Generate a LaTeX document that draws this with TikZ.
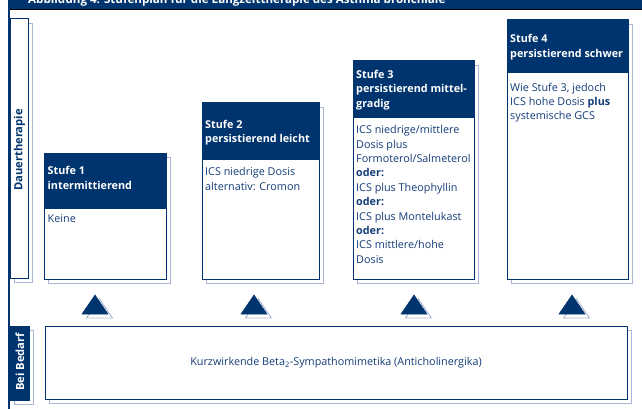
\documentclass[tikz,border=0pt]{standalone}
\usepackage{fontspec}
\setmainfont{Open Sans}
\definecolor{dblue}{RGB}{0,52,110}
\definecolor{tblue}{RGB}{20,60,120}
\definecolor{shade}{RGB}{170,182,214}
\tikzset{
  hdrbox/.style={fill=dblue,draw=dblue,line width=1pt},
  bodybox/.style={fill=white,draw=dblue,line width=1pt},
  shadowbox/.style={fill=white,draw=shade,line width=0.9pt},
  hdrtext/.style={anchor=north west,inner sep=0pt,align=left,text=white,font=\fontsize{10.8}{14.4}\selectfont\bfseries},
  bodytext/.style={anchor=north west,inner sep=0pt,align=left,text=tblue,font=\fontsize{10.8}{14.4}\selectfont},
  sidetext/.style={rotate=90,inner sep=0pt,font=\fontsize{11.2}{12}\selectfont\bfseries},
  tri/.style={fill=dblue,draw=dblue,line width=0.5pt},
  trishadow/.style={fill=white,draw=shade,line width=0.9pt}
}
\begin{document}
\begin{tikzpicture}[x=1pt,y=-1pt]
\useasboundingbox (0,0) rectangle (642,409);
% top band with title
\fill[dblue] (8,0) rectangle (642,9);
\draw[shade,line width=0.6pt] (8,9.2) -- (642,9.2);
\begin{scope}
\clip (8,0) rectangle (642,9);
\node[anchor=base west,inner sep=0pt,text=white,font=\fontsize{11.6}{13}\selectfont\bfseries] (title) at (28,3.6) {Abbildung 4: Stufenplan für die Langzeittherapie des Asthma bronchiale};
\end{scope}
% left vertical line
\draw[dblue,line width=2pt] (9,9) -- (9,409);
% Dauertherapie label
\draw[shadowbox] (14,23) rectangle (32,282);
\draw[bodybox] (10,19) rectangle (28,278);
\node[sidetext,text=dblue] (dauer) at (19.5,150) {Dauertherapie};
% Bei Bedarf label
\draw[shadowbox] (14,330) rectangle (33,404);
\draw[hdrbox] (10,326) rectangle (29,400);
\node[sidetext,text=white] (bedarf) at (20,362) {Bei Bedarf};
% Stufe 1
\draw[shadowbox] (48,157) rectangle (170,283);
\draw[bodybox] (44,208) rectangle (166,279);
\draw[hdrbox] (44,153) rectangle (166,208);
\node[hdrtext] (h1) at (47.5,166.3) {Stufe 1\\intermittierend};
\node[bodytext] (b1) at (47.5,214.5) {Keine};
% Stufe 2
\draw[shadowbox] (206,107) rectangle (323,283);
\draw[bodybox] (202,159) rectangle (319,279);
\draw[hdrbox] (202,103) rectangle (319,159);
\node[hdrtext] (h2) at (205,120) {Stufe 2\\persistierend leicht};
\node[bodytext] (b2) at (205,167.5) {ICS niedrige Dosis\\alternativ: Cromon};
% Stufe 3
\draw[shadowbox] (357,65) rectangle (478,283);
\draw[bodybox] (353,118) rectangle (474,279);
\draw[hdrbox] (353,61) rectangle (474,118);
\node[hdrtext] (h3) at (356,70) {Stufe 3\\persistierend mittel-\\gradig};
\node[bodytext] (b3) at (356,125.3) {ICS niedrige/mittlere\\Dosis plus\\Formoterol/Salmeterol\\\textbf{oder:}\\ICS plus Theophyllin\\\textbf{oder:}\\ICS plus Montelukast\\\textbf{oder:}\\ICS mittlere/hohe\\Dosis};
% Stufe 4
\draw[shadowbox] (511,24) rectangle (632,283);
\draw[bodybox] (507,73) rectangle (628,279);
\draw[hdrbox] (507,20) rectangle (628,73);
\node[hdrtext] (h4) at (510,34.5) {Stufe 4\\persistierend schwer};
\node[bodytext] (b4) at (510,82.7) {Wie Stufe 3, jedoch\\ICS hohe Dosis \textbf{plus}\\systemische GCS};
% triangles
\foreach \cx/\nm in {95/t1,254/t2,414/t3,572/t4}{
  \draw[trishadow] (\cx+4.5,299) -- (\cx-8.5,318) -- (\cx+17.5,318) -- cycle;
  \filldraw[tri] (\cx,295) -- (\cx-13,314) -- (\cx+13,314) -- cycle;
  \coordinate (\nm) at (\cx,305);
}
% bottom box
\draw[shadowbox] (49,330) rectangle (631,403);
\draw[bodybox] (45,326) rectangle (627,399);
\node[inner sep=0pt,text=tblue,font=\fontsize{10.8}{12}\selectfont] (beta) at (336,362.5) {Kurzwirkende Beta\textsubscript{2}-Sympathomimetika (Anticholinergika)};
\end{tikzpicture}
\end{document}
